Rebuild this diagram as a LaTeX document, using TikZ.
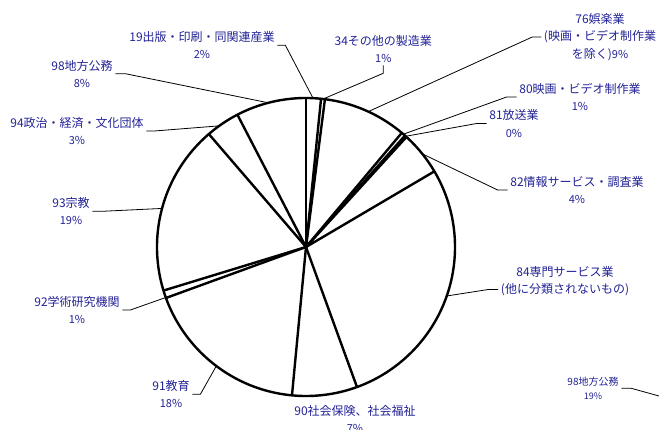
\documentclass[tikz,border=0pt]{standalone}
\usepackage{fontspec}
\newfontfamily\cjk{Noto Sans CJK JP}
\usetikzlibrary{calc}
\definecolor{lblc}{RGB}{34,34,150}
\newcommand{\pctx}[1]{{\fontsize{11}{17.3}\selectfont #1}}
\tikzset{
  lbl/.style={font=\cjk\fontsize{12}{17.3}\selectfont, text=lblc, align=center, inner sep=2.5pt},
  lead/.style={line width=0.8pt, draw=black},
  piestroke/.style={line width=2.4pt, draw=black}
}
\begin{document}
\begin{tikzpicture}[x=1pt,y=-1pt]
\useasboundingbox (0,0) rectangle (659,430);
\coordinate (c) at (306,247);
% pie
\draw[piestroke] (c) circle[radius=149pt];
\foreach \a in {90,84.2,82.7,50,48.4,47.6,30.5,-70,-95.4,-160,-163,130.7,117.4}
  \draw[piestroke] (c) -- ($(c)+(\a:149pt)$);
% leader end points on the pie
\coordinate (p19) at ($(c)+(87.3:149pt)$);
\coordinate (p34) at ($(c)+(83.4:149pt)$);
\coordinate (p76) at ($(c)+(65.3:149pt)$);
\coordinate (p80) at ($(c)+(49.2:149pt)$);
\coordinate (p81) at ($(c)+(48.0:149pt)$);
\coordinate (p82) at ($(c)+(38.7:149pt)$);
\coordinate (p84) at ($(c)+(-19.2:149pt)$);
\coordinate (p91) at ($(c)+(-127:149pt)$);
\coordinate (p92) at ($(c)+(-160.2:149pt)$);
\coordinate (p93) at ($(c)+(165:149pt)$);
\coordinate (p94) at ($(c)+(125.6:149pt)$);
\coordinate (p98) at ($(c)+(104.6:149pt)$);
\coordinate (offedge) at (659,396);
% labels
\node[lbl] (l19) at (202,45.3) {19出版・印刷・同関連産業\\\pctx{2\%}};
\node[lbl] (l34) at (383.3,48.8) {34その他の製造業\\\pctx{1\%}};
\node[lbl] (l76) at (600,37) {76娯楽業\\(映画・ビデオ制作業\\を除く)\pctx{9\%}};
\node[lbl] (l80) at (580,97) {80映画・ビデオ制作業\\\pctx{1\%}};
\node[lbl] (l81) at (514,123.5) {81放送業\\\pctx{0\%}};
\node[lbl] (l82) at (577,190) {82情報サービス・調査業\\\pctx{4\%}};
\node[lbl] (l84) at (565,281) {84専門サービス業\\(他に分類されないもの)};
\node[lbl] (l90) at (355,419) {90社会保険、社会福祉\\\pctx{7\%}};
\node[lbl] (l91) at (171,394.3) {91教育\\\pctx{18\%}};
\node[lbl] (l92) at (77,310) {92学術研究機関\\\pctx{1\%}};
\node[lbl] (l93) at (71,211.3) {93宗教\\\pctx{19\%}};
\node[lbl] (l94) at (77,131) {94政治・経済・文化団体\\\pctx{3\%}};
\node[lbl] (l98) at (82,73.7) {98地方公務\\\pctx{8\%}};
\node[lbl, font=\cjk\fontsize{10}{13.8}\selectfont] (l98b) at (593,388.3) {98地方公務\\{\fontsize{9}{13.8}\selectfont 19\%}};
% leaders
\draw[lead] (l19.east) -- ++(8,0) -- (p19);
\draw[lead] (l34.south) -- ++(0,8) -- (p34);
\draw[lead] (l76.west) -- ++(-9,0) -- (p76);
\draw[lead] (l80.west) -- ++(-10,0) -- (p80);
\draw[lead] (l81.west) -- ++(-10,0) -- (p81);
\draw[lead] (l82.west) -- ++(-10,0) -- (p82);
\draw[lead] ($(l84.west)+(0,8.5)$) -- ++(-10,0) -- (p84);
\draw[lead] (l91.east) -- ++(8,0) -- (p91);
\draw[lead] (l92.east) -- ++(8,0) -- (p92);
\draw[lead] (l93.east) -- ++(10,0) -- (p93);
\draw[lead] (l94.east) -- ++(8,0) -- (p94);
\draw[lead] (l98.east) -- ++(10,0) -- (p98);
\draw[lead] (l98b.east) -- ++(10,0) -- (offedge);
\end{tikzpicture}
\end{document}
